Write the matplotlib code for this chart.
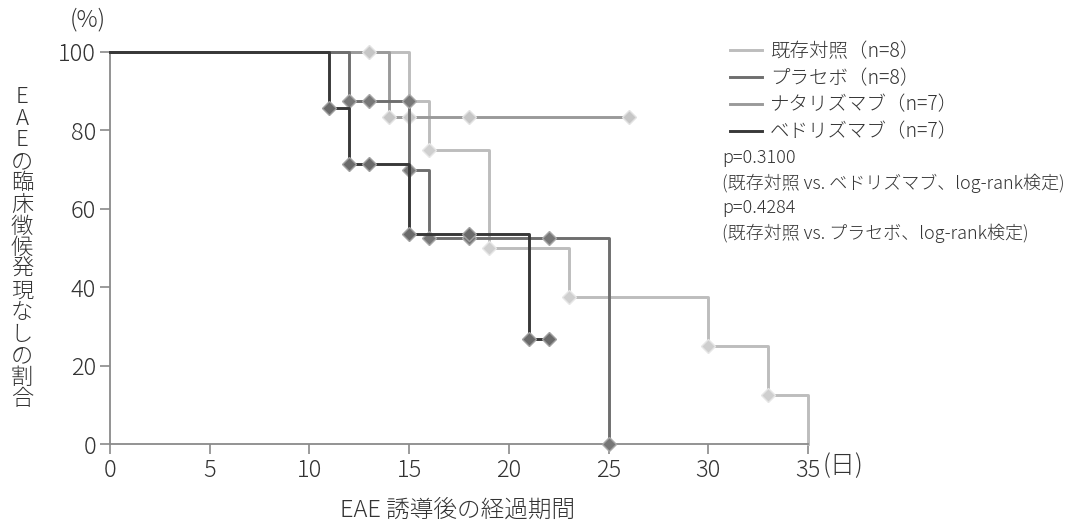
import matplotlib
matplotlib.use("Agg")
import matplotlib.pyplot as plt

plt.rcParams['font.family'] = ['Noto Sans CJK JP', 'DejaVu Sans']
plt.rcParams['font.weight'] = 'light'

# --- Kaplan-Meier step data (days, % without EAE clinical signs) ---
labels = ["既存対照（n=8）", "プラセボ（n=8）", "ナタリズマブ（n=7）", "ベドリズマブ（n=7）"]

ctrl_t = [0, 15, 16, 19, 23, 30, 33, 35]
ctrl_s = [100, 87.5, 75, 50, 37.5, 25, 12.5, 0]
ctrl_mt = [16, 19, 23, 30, 33]
ctrl_ms = [75, 50, 37.5, 25, 12.5]

plac_t = [0, 12, 15, 16, 25]
plac_s = [100, 87.5, 70, 52.5, 0]
plac_mt = [12, 13, 15, 15, 16, 18, 22, 25]
plac_ms = [87.5, 87.5, 87.5, 70, 52.5, 52.5, 52.5, 0]

nata_t = [0, 14, 26]
nata_s = [100, 83.3, 83.3]
nata_mt = [13, 14, 15, 18, 26]
nata_ms = [100, 83.3, 83.3, 83.3, 83.3]

vedo_t = [0, 11, 12, 15, 21, 22]
vedo_s = [100, 85.7, 71.4, 53.6, 26.8, 26.8]
vedo_mt = [11, 12, 13, 15, 18, 21, 22]
vedo_ms = [85.7, 71.4, 71.4, 53.6, 53.6, 26.8, 26.8]

xticks = [0, 5, 10, 15, 20, 25, 30, 35]
yticks = [0, 20, 40, 60, 80, 100]

p_lines = ["p=0.3100",
           "(既存対照 vs. ベドリズマブ、log-rank検定)",
           "p=0.4284",
           "(既存対照 vs. プラセボ、log-rank検定)"]

ylabel_txt = "EAEの臨床徴候発現なしの割合"

W, H = 1067, 524
fig = plt.figure(figsize=(W / 100, H / 100), dpi=100)
ax = fig.add_axes([110 / W, 1 - 444 / H, (808 - 110) / W, (444 - 52) / H])

TXT = '#333333'
SPINE = '#8a8a8a'

series = [
    (ctrl_t, ctrl_s, ctrl_mt, ctrl_ms, '#bdbdbd', '#cfcfcf', '#e6e6e6'),
    (nata_t, nata_s, nata_mt, nata_ms, '#9a9a9a', '#c6c6c6', '#e2e2e2'),
    (plac_t, plac_s, plac_mt, plac_ms, '#6e6e6e', '#777777', '#a8a8a8'),
    (vedo_t, vedo_s, vedo_mt, vedo_ms, '#383838', '#6a6a6a', '#a0a0a0'),
]
legend_order = [0, 2, 1, 3]  # series index -> label index
handles = {}
for i, (t, s, mt, ms, lc, mfc, mec) in enumerate(series):
    ln, = ax.step(t, s, where='post', color=lc, lw=2.1, clip_on=False, zorder=2 + i)
    ax.plot(mt, ms, ls='none', marker='D', ms=7, mfc=mfc, mec=mec, mew=1.0,
            clip_on=False, zorder=2 + i)
    handles[legend_order[i]] = ln

ax.set_xlim(0, 35)
ax.set_ylim(0, 100)
ax.set_xticks(xticks)
ax.set_yticks(yticks)
ax.set_xticklabels([str(v) for v in xticks])
ax.set_yticklabels([str(v) for v in yticks])
for side in ['top', 'right']:
    ax.spines[side].set_visible(False)
for side in ['left', 'bottom']:
    ax.spines[side].set_color(SPINE)
    ax.spines[side].set_linewidth(1.3)
ax.tick_params(direction='out', length=7, width=1.2, color=SPINE,
               labelsize=17, labelcolor=TXT, pad=3)

# units
fig.text(823 / W, 1 - 466 / H, "(日)", fontsize=18, color=TXT, ha='left', va='center')
fig.text(88 / W, 1 - 20 / H, "(%)", fontsize=17, color=TXT, ha='center', va='center')

# x label
fig.text(458 / W, 1 - 510 / H, "EAE 誘導後の経過期間", fontsize=17, color=TXT,
         ha='center', va='center')

# vertical stacked y label
y0, step = 97, 21.6
for k, ch in enumerate(ylabel_txt):
    fig.text(22 / W, 1 - (y0 + k * step) / H, ch, fontsize=16, color=TXT,
             ha='center', va='center')

# legend
leg = ax.legend([handles[k] for k in range(4)], labels, loc='upper left',
                bbox_to_anchor=(730 / W, 1 - 41 / H), bbox_transform=fig.transFigure,
                frameon=False, fontsize=14, handlelength=1.65, handletextpad=0.4,
                labelspacing=0.3, borderaxespad=0, borderpad=0)
for txt in leg.get_texts():
    txt.set_color(TXT)

for k, line in enumerate(p_lines):
    fig.text(722 / W, 1 - (158 + k * 25) / H, line, fontsize=13, color=TXT,
             ha='left', va='center')

fig.savefig("out.png", dpi=100)
